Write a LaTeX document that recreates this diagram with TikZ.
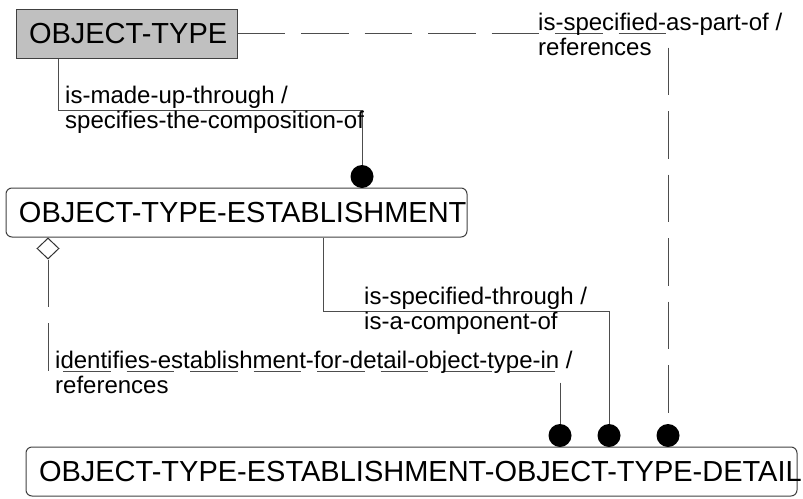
\documentclass[tikz,border=0pt]{standalone}
\usepackage{fontspec}
\setmainfont{Liberation Sans}
\usetikzlibrary{shapes.geometric}
\definecolor{EntFill}{HTML}{C0C0C0}
\definecolor{Wire}{HTML}{4D4D4D}

\begin{document}
\begin{tikzpicture}[
  x=1pt, y=-1pt,
  ent/.style={draw=black!75, line width=1pt, minimum height=49pt, inner xsep=13pt,
              inner ysep=0pt, align=left, font=\fontsize{29}{32}\selectfont},
  kind/.style={ent, fill=EntFill},
  dep/.style={ent, rounded corners=6pt},
  rel/.style={draw=Wire, line width=1pt},
  % reference relations: long dashes, phase starts at the parent side
  refrel/.style={rel, dash pattern=on 47.5pt off 16pt},
  dot/.style={circle, fill=black, inner sep=0pt, minimum size=23pt},
  hollow/.style={diamond, draw=black!80, line width=1pt, fill=white, aspect=1.05,
                 inner sep=0pt, minimum width=22pt, minimum height=21pt},
  % anchored on the baseline of the last line
  verb/.style={font=\fontsize{24}{25}\selectfont, align=left, inner sep=0pt,
               anchor=base west}]
\useasboundingbox (0,0) rectangle (803,498);

% ---- entities ----
\node[kind, text width=195pt] (ot) at (126.5,33.5) {\mbox{OBJECT-TYPE}};
\node[dep, text width=435pt] (ote) at (236.5,212.5) {\mbox{OBJECT-TYPE-ESTABLISHMENT}};
\node[dep, text width=745pt] (otd) at (411.5,471.5)
  {\mbox{OBJECT-TYPE-ESTABLISHMENT-OBJECT-TYPE-DETAIL}};

% ---- relationship ends ----
\node[dot] (cm) at (362,176.5) {};
\node[dot] (id) at (560,435.5) {};
\node[dot] (sp) at (609,435.5) {};
\node[dot] (pa) at (668,435.5) {};
\node[hollow] (dm) at (48,248.5) {};

% ---- connectors ----
\draw[rel] ([xshift=43pt]ot.south west) -- ++(0,52) -| (cm.north);
\draw[rel] ([xshift=318pt]ote.south west) -- ++(0,74) -| (sp.north);
\draw[refrel] (ot.east) -| (pa.north);
\draw[refrel] (dm.south) -- ++(0,112) -| (id.north);

% ---- verb phrases ----
\node[verb] (vcm) at (65,128) {is-made-up-through /\\specifies-the-composition-of};
\node[verb] (vsp) at (364,329) {is-specified-through /\\is-a-component-of};
\node[verb] (vpa) at (538,55) {is-specified-as-part-of /\\references};
\node[verb] (vid) at (55,393)
  {identifies-establishment-for-detail-object-type-in /\\references};
\end{tikzpicture}
\end{document}
